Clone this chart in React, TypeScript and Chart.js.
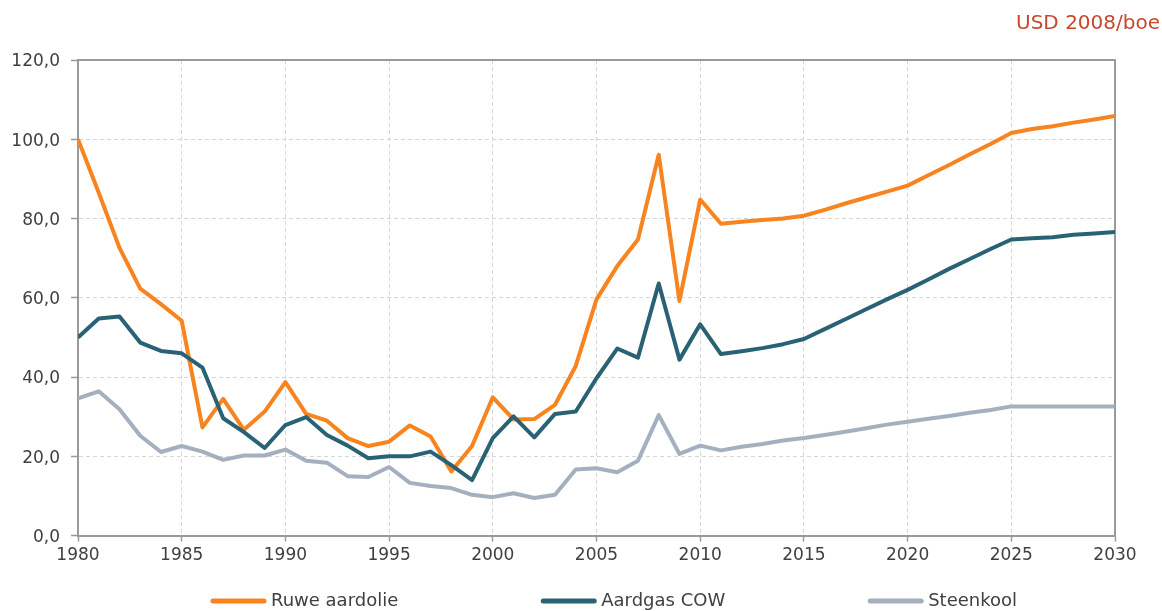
import React, { useEffect, useRef } from "react";
import { Chart, registerables } from "chart.js";

Chart.register(...registerables);

const FONT = "'DejaVu Sans', 'Noto Sans', sans-serif";

const years = [
  1980, 1981, 1982, 1983, 1984, 1985, 1986, 1987, 1988, 1989,
  1990, 1991, 1992, 1993, 1994, 1995, 1996, 1997, 1998, 1999,
  2000, 2001, 2002, 2003, 2004, 2005, 2006, 2007, 2008, 2009,
  2010, 2011, 2012, 2013, 2014, 2015, 2016, 2017, 2018, 2019,
  2020, 2021, 2022, 2023, 2024, 2025, 2026, 2027, 2028, 2029, 2030,
];

const ruweAardolie = [
  100.0, 86.5, 72.6, 62.3, 58.4, 54.2, 27.3, 34.5, 26.7, 31.3,
  38.7, 30.7, 29.0, 24.6, 22.6, 23.7, 27.8, 25.0, 16.2, 22.6,
  34.9, 29.3, 29.4, 33.0, 42.8, 59.6, 68.0, 74.7, 96.1, 59.2,
  84.8, 78.7, 79.2, 79.6, 80.0, 80.7, 82.2, 83.8, 85.3, 86.8,
  88.3, 90.9, 93.5, 96.2, 98.8, 101.6, 102.6, 103.3, 104.2, 105.0, 105.9,
];

const aardgasCow = [
  50.0, 54.8, 55.3, 48.7, 46.6, 46.0, 42.4, 29.6, 26.1, 22.1,
  27.9, 29.9, 25.4, 22.7, 19.5, 20.0, 20.0, 21.2, 17.8, 14.0,
  24.6, 30.1, 24.8, 30.7, 31.3, 39.7, 47.2, 44.9, 63.6, 44.4,
  53.3, 45.8, 46.5, 47.3, 48.3, 49.6, 52.1, 54.6, 57.1, 59.6,
  62.0, 64.6, 67.3, 69.8, 72.3, 74.7, 75.0, 75.3, 75.9, 76.2, 76.6,
];

const steenkool = [
  34.6, 36.4, 31.9, 25.2, 21.1, 22.6, 21.2, 19.1, 20.2, 20.2,
  21.7, 18.9, 18.4, 15.0, 14.8, 17.3, 13.3, 12.5, 12.0, 10.3,
  9.7, 10.7, 9.5, 10.3, 16.7, 17.0, 16.0, 18.9, 30.4, 20.6,
  22.7, 21.5, 22.4, 23.1, 24.0, 24.6, 25.4, 26.2, 27.1, 28.0,
  28.7, 29.5, 30.2, 31.0, 31.7, 32.6, 32.6, 32.6, 32.6, 32.6, 32.6,
];

const seriesLabels = ["Ruwe aardolie", "Aardgas COW", "Steenkool"];
const seriesColors = ["#f7841f", "#2a6275", "#a5b0bf"];
const unitLabel = "USD 2008/boe";

const framePlugin = {
  id: "frame",
  beforeDatasetsDraw(chart: any) {
    const { ctx, chartArea } = chart;
    ctx.save();
    ctx.strokeStyle = "#9a9a9a";
    ctx.lineWidth = 2;
    ctx.beginPath();
    ctx.moveTo(chartArea.left, chartArea.top);
    ctx.lineTo(chartArea.right, chartArea.top);
    ctx.lineTo(chartArea.right, chartArea.bottom);
    ctx.stroke();
    ctx.restore();
  },
};

const legendPlugin = {
  id: "spacedLegend",
  afterDraw(chart: any) {
    const { ctx, chartArea } = chart;
    ctx.save();
    ctx.font = `18px ${FONT}`;
    ctx.textBaseline = "middle";
    ctx.textAlign = "left";
    const lineW = 55;
    const gap = 5;
    const pad = 143;
    const items = chart.data.datasets.map((ds: any) => ({
      label: ds.label,
      color: ds.borderColor,
      w: lineW + gap + ctx.measureText(ds.label).width,
    }));
    const total =
      items.reduce((s: number, it: any) => s + it.w, 0) + pad * (items.length - 1);
    const center = (chartArea.left + chartArea.right) / 2 + 17.5;
    let x = center - total / 2;
    const y = 601;
    items.forEach((it: any) => {
      ctx.strokeStyle = it.color;
      ctx.lineWidth = 5;
      ctx.lineCap = "round";
      ctx.beginPath();
      ctx.moveTo(x + 2, y);
      ctx.lineTo(x + lineW - 2, y);
      ctx.stroke();
      ctx.fillStyle = "#404040";
      ctx.fillText(it.label, x + lineW + gap, y);
      x += it.w + pad;
    });
    ctx.restore();
  },
};

export default function App() {
  const canvasRef = useRef<HTMLCanvasElement | null>(null);

  useEffect(() => {
    if (!canvasRef.current) return;
    const series = [ruweAardolie, aardgasCow, steenkool];
    const chart = new Chart(canvasRef.current, {
      type: "line",
      data: {
        datasets: series.map((vals, i) => ({
          label: seriesLabels[i],
          data: years.map((yr, j) => ({ x: yr, y: vals[j] })),
          borderColor: seriesColors[i],
          backgroundColor: seriesColors[i],
          borderWidth: 4,
          pointRadius: 0,
          tension: 0,
          borderJoinStyle: "round",
          order: 3 - i,
        })),
      },
      options: {
        animation: false,
        responsive: false,
        layout: { padding: { left: 8, right: 2, top: 0, bottom: 41 } },
        plugins: {
          legend: { display: false },
          tooltip: { enabled: false },
          title: {
            display: true,
            text: unitLabel,
            align: "end",
            color: "#c8472d",
            font: { family: FONT, size: 20, weight: "normal" },
            padding: { top: 12, bottom: 24 },
          },
        },
        scales: {
          x: {
            type: "linear",
            min: 1980,
            max: 2030,
            afterFit: (s: any) => {
              s.paddingRight = 47;
            },
            ticks: {
              stepSize: 5,
              autoSkip: false,
              maxRotation: 0,
              padding: 4,
              color: "#404040",
              font: { family: FONT, size: 17 },
              callback: (v: any) => String(v),
            },
            grid: {
              color: "#d6d6d6",
              lineWidth: 1,
              tickLength: 6,
              tickColor: "#9a9a9a",
              tickWidth: 1.5,
            },
            border: { color: "#9a9a9a", width: 2, dash: [4, 3] },
          },
          y: {
            min: 0,
            max: 120,
            afterFit: (s: any) => {
              s.width = 70;
            },
            ticks: {
              stepSize: 20,
              padding: 11,
              labelOffset: 2,
              color: "#404040",
              font: { family: FONT, size: 17 },
              callback: (v: any) => Number(v).toFixed(1).replace(".", ","),
            },
            grid: {
              color: "#d6d6d6",
              lineWidth: 1,
              tickLength: 7,
              tickColor: "#9a9a9a",
              tickWidth: 1.5,
            },
            border: { color: "#9a9a9a", width: 2, dash: [4, 3] },
          },
        },
      },
      plugins: [framePlugin, legendPlugin],
    } as any);
    return () => chart.destroy();
  }, []);

  return (
    <div style={{ position: "fixed", left: 0, top: 0, width: 1162, height: 611, background: "#fff" }}>
      <canvas ref={canvasRef} width={1162} height={611} style={{ width: 1162, height: 611 }} />
    </div>
  );
}
